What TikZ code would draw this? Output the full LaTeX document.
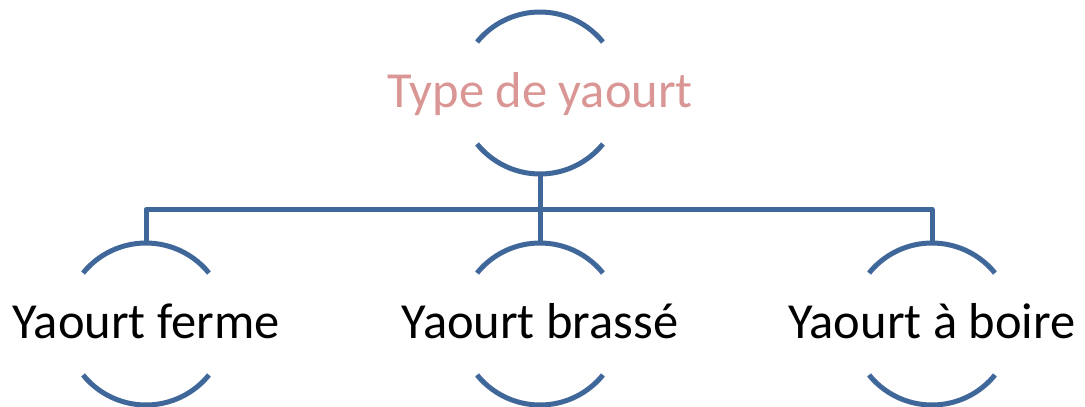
\documentclass[tikz,border=0pt]{standalone}
\usepackage{fontspec}
\setmainfont{Carlito}
\definecolor{linkblue}{RGB}{63,103,153}
\definecolor{rootpink}{RGB}{217,150,148}
\begin{document}
\begin{tikzpicture}[x=1pt,y=-1pt,
  unit/.style={rectangle, inner sep=0pt, minimum height=162pt,
    text height=28pt, text depth=0pt,
    font=\fontsize{50.5}{60}\selectfont},
  bracket/.style={draw=linkblue, line width=5pt},
  conn/.style={draw=linkblue, line width=5pt, line join=round}]
  \useasboundingbox (0,0) rectangle (1085,407);

  % nodes
  \node[unit, text=rootpink] (root) at (540,93) {Type de yaourt};
  \node[unit] (ferme)  at (146,324) {Yaourt ferme};
  \node[unit] (brasse) at (540,324) {Yaourt brassé};
  \node[unit] (boire)  at (932,324) {Yaourt à boire};

  % bracket arcs above and below each label
  \foreach \n in {root,ferme,brasse,boire}{
    \draw[bracket] ([shift={(39:81pt)}]\n.center) arc[start angle=39, end angle=141, radius=81pt];
    \draw[bracket] ([shift={(-141:81pt)}]\n.center) arc[start angle=-141, end angle=-39, radius=81pt];
  }

  % connectors
  \coordinate (bar) at (540,209.5);
  \draw[conn] (root.south) -- (root.south |- bar);
  \draw[conn] (ferme.north) -- (ferme.north |- bar) -- (boire.north |- bar) -- (boire.north);
  \draw[conn] (brasse.north) -- (brasse.north |- bar);
\end{tikzpicture}
\end{document}
